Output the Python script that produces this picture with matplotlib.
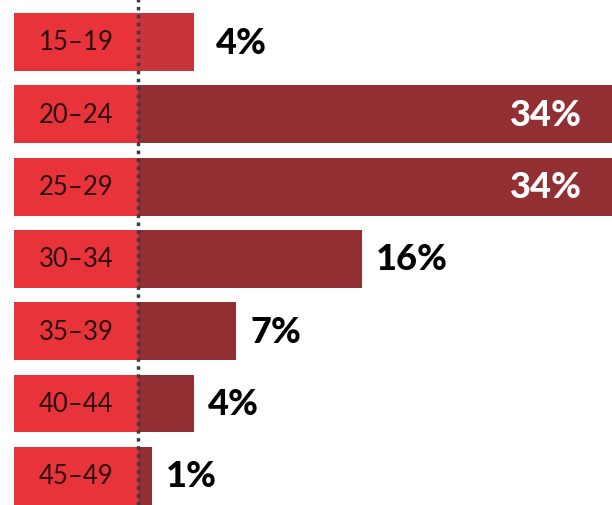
import matplotlib.pyplot as plt

# age groups and share of total
groups = ["15-19", "20-24", "25-29", "30-34", "35-39", "40-44", "45-49"]
shares = [4, 34, 34, 16, 7, 4, 1]
bar_colors = ["#c9343b", "#922f32", "#922f32", "#922f32", "#922f32", "#922f32", "#922f32"]
label_red = "#e8333b"

plt.rcParams["font.family"] = ["Lato", "DejaVu Sans"]

fig = plt.figure(figsize=(6.12, 5.06), dpi=100)
ax = fig.add_axes([0, 0, 1, 1])

px = 14.0  # pixels per percent
ax.set_xlim(-138 / px, (612 - 138) / px)
ax.set_ylim((506 - 43) / 72.3, -43 / 72.3)
ax.axis("off")

ypos = list(range(len(groups)))
h = 0.80

# red label boxes
ax.barh(ypos, [124 / px] * len(groups), left=-124 / px, height=h, color=label_red)
# value bars
ax.barh(ypos, shares, left=0, height=h, color=bar_colors)

for y, g, s in zip(ypos, groups, shares):
    ax.text(-62 / px, y, g.replace("-", "\u2013"), ha="center", va="center",
            fontsize=18.5, color="#2a0e0e", fontweight="normal")
    if s > 30:
        ax.text(s - 2.3, y, f"{s}%", ha="right", va="center", fontsize=26,
                color="white", fontweight="black")
    else:
        off = 1.6 if y == 0 else 1.0
        ax.text(s + off, y, f"{s}%", ha="left", va="center", fontsize=26,
                color="black", fontweight="black")

ax.axvline(0, color="#3b3b45", linewidth=2.5, linestyle=(0, (1, 1.3)), zorder=5)

fig.savefig("out.png", dpi=100)
